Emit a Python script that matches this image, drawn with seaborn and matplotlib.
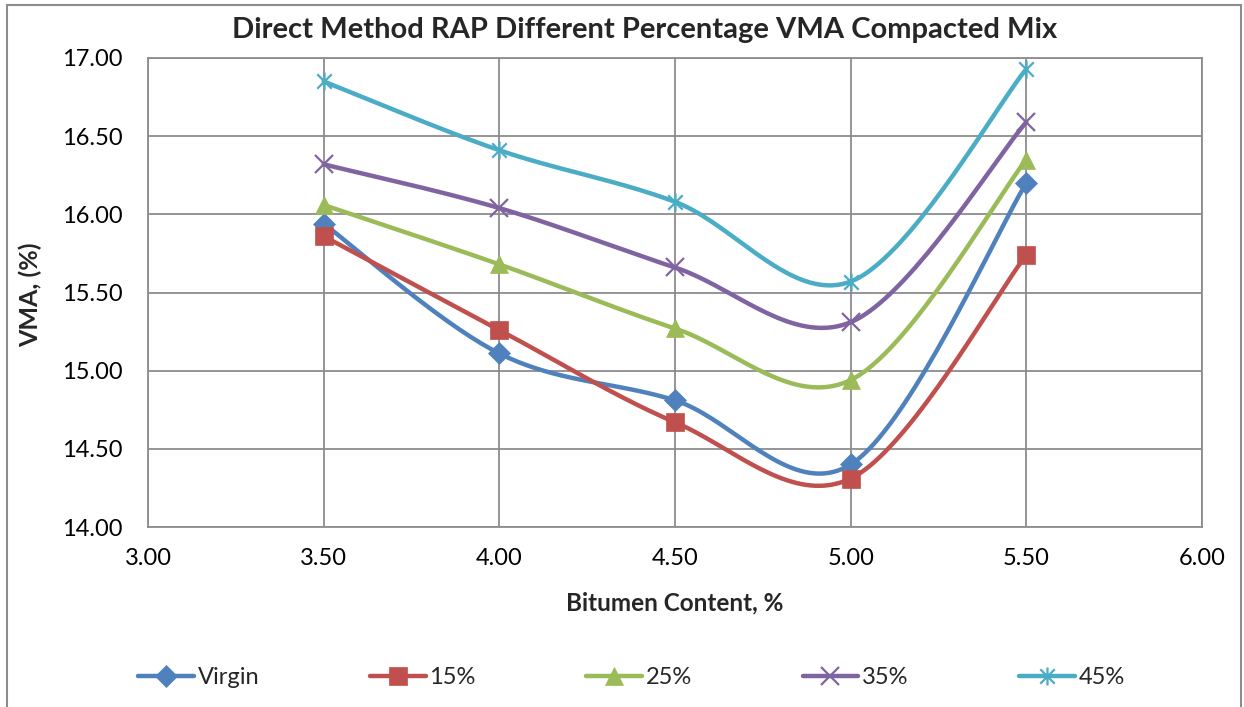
import numpy as np
import pandas as pd
import seaborn as sns
import matplotlib
matplotlib.use("Agg")
import matplotlib.pyplot as plt
from matplotlib.path import Path
from matplotlib.lines import Line2D
from matplotlib.patches import Rectangle

# Bitumen content (%) and VMA (%) for each RAP percentage
bitumen = [3.5, 4.0, 4.5, 5.0, 5.5]
series_names = ["Virgin", "15%", "25%", "35%", "45%"]
vma_virgin = [15.94, 15.11, 14.81, 14.40, 16.20]
vma_15 = [15.86, 15.26, 14.67, 14.31, 15.74]
vma_25 = [16.06, 15.68, 15.27, 14.94, 16.35]
vma_35 = [16.32, 16.04, 15.66, 15.31, 16.59]
vma_45 = [16.85, 16.41, 16.08, 15.57, 16.93]
x_ticks = [3.0, 3.5, 4.0, 4.5, 5.0, 5.5, 6.0]
y_ticks = [14.0, 14.5, 15.0, 15.5, 16.0, 16.5, 17.0]

colors = ["#4F81BD", "#C0504D", "#9BBB59", "#8064A2", "#4BACC6"]

# star marker: an X crossed by a vertical stroke
star = Path(
    [(-1, -1), (1, 1), (-1, 1), (1, -1), (0, -1.25), (0, 1.25)],
    [Path.MOVETO, Path.LINETO, Path.MOVETO, Path.LINETO, Path.MOVETO, Path.LINETO],
)
markers = ["D", "s", "^", "x", star]
msizes = [11.5, 12.5, 12.5, 13, 13]


def smooth(xs, ys, n=40):
    """Piecewise cubic Bezier through the points (Catmull-Rom style)."""
    p = np.column_stack([xs, ys]).astype(float)
    ext = np.vstack([p[0], p, p[-1]])
    out = []
    t = np.linspace(0, 1, n)[:, None]
    for i in range(len(p) - 1):
        p0, p1, p2, p3 = ext[i], ext[i + 1], ext[i + 2], ext[i + 3]
        c1 = p1 + (p2 - p0) / 6.0
        c2 = p2 - (p3 - p1) / 6.0
        seg = ((1 - t) ** 3) * p1 + 3 * ((1 - t) ** 2) * t * c1 + 3 * (1 - t) * t ** 2 * c2 + t ** 3 * p2
        out.append(seg if i == 0 else seg[1:])
    s = np.vstack(out)
    return s[:, 0], s[:, 1]


sns.set_theme(style="white")
plt.rcParams["font.family"] = ["Lato", "DejaVu Sans"]

fig = plt.figure(figsize=(12.44, 7.07), dpi=100)
ax = fig.add_axes([148 / 1244, 180 / 707, (1202 - 148) / 1244, (527 - 58) / 707])

all_vma = [vma_virgin, vma_15, vma_25, vma_35, vma_45]
handles = []
for name, vals, c, m, ms in zip(series_names, all_vma, colors, markers, msizes):
    sx, sy = smooth(bitumen, vals)
    curve = pd.DataFrame({"x": sx, "y": sy})
    sns.lineplot(data=curve, x="x", y="y", sort=False, estimator=None,
                 color=c, linewidth=3.2, ax=ax, zorder=3)
    mew = 1.6 if (m == "x" or m is star) else 0.5
    ax.plot(bitumen, vals, linestyle="none", marker=m, markersize=ms,
            color=c, markeredgecolor=c, markeredgewidth=mew, zorder=4)
    handles.append(Line2D([0], [0], color=c, linewidth=3.2, marker=m, markersize=ms,
                          markeredgecolor=c, markeredgewidth=mew))

ax.set_xlim(3.0, 6.0)
ax.set_ylim(14.0, 17.0)
ax.set_xticks(x_ticks)
ax.set_yticks(y_ticks)
ax.set_xticklabels([f"{v:.2f}" for v in x_ticks], fontsize=17)
ax.set_yticklabels([f"{v:.2f}" for v in y_ticks], fontsize=17)
ax.tick_params(axis="x", length=0, pad=15, colors="black")
ax.tick_params(axis="y", length=0, pad=18, colors="black")
ax.grid(True, color="#8C8C8C", linewidth=1.3)
ax.set_axisbelow(True)
for s in ax.spines.values():
    s.set_color("#8C8C8C")
    s.set_linewidth(1.3)

ax.set_xlabel("Bitumen Content, %", fontsize=17.5, fontweight="bold")
ax.xaxis.label.set_va("center")
ax.xaxis.set_label_coords(0.5, (527 - 603) / 469)
ax.set_ylabel("VMA, (%)", fontsize=18, fontweight="bold")
ax.yaxis.label.set_va("center")
ax.yaxis.set_label_coords((30 - 148) / 1054, 0.495)

fig.text(645 / 1244, 1 - 30 / 707, "Direct Method RAP Different Percentage VMA Compacted Mix",
         ha="center", va="center", fontsize=21, fontweight="bold")

fig.legend(handles, series_names, loc="center", bbox_to_anchor=(631.5 / 1244, 29 / 707),
           ncol=5, frameon=False, fontsize=17, handlelength=2.35, handletextpad=0.15,
           columnspacing=4.7)

# outer chart border
fig.patches.append(Rectangle((7 / 1244, -0.01), (1241 - 7) / 1244, (702 / 707) + 0.01,
                             transform=fig.transFigure, fill=False,
                             edgecolor="#8C8C8C", linewidth=1.5))

fig.savefig("out.png", dpi=100)
